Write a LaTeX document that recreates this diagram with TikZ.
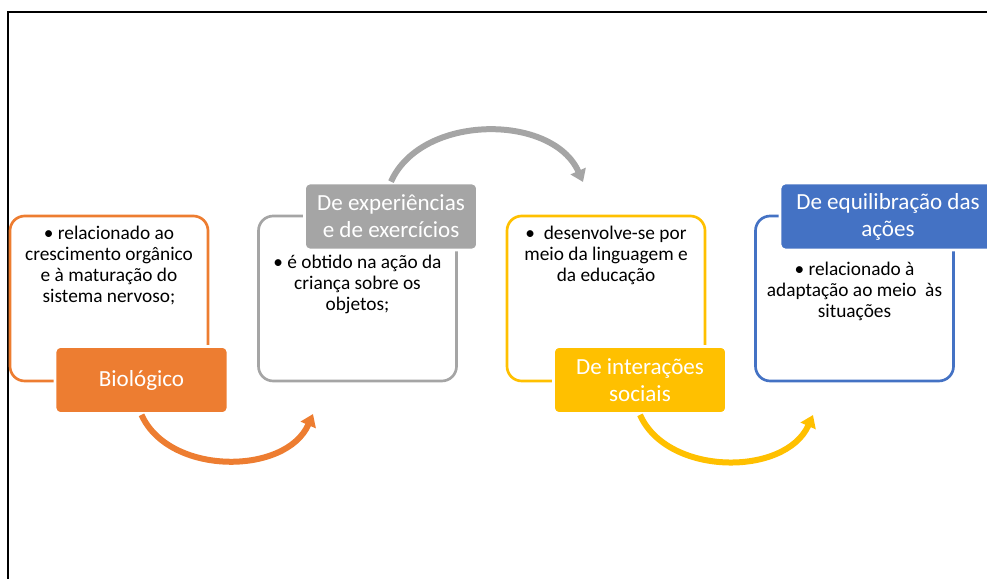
\documentclass[tikz,border=0pt]{standalone}
\usepackage{fontspec}
\setmainfont{Carlito}
\usetikzlibrary{positioning,arrows.meta}
\definecolor{orgline}{HTML}{ED7D31}
\definecolor{gryline}{HTML}{A5A5A5}
\definecolor{ylwline}{HTML}{FFC000}
\definecolor{bluline}{HTML}{4472C4}

\begin{document}
\begin{tikzpicture}[
    x=0.75pt, y=0.75pt,
    outline box/.style={draw, line width=2pt, rounded corners=11pt, minimum width=148.5pt, minimum height=123.75pt, inner sep=0pt},
    head box/.style={draw=white, line width=2pt, rounded corners=4pt, minimum width=129.75pt, minimum height=50.25pt, text=white, align=center, inner sep=0pt, font=\fontsize{17.3}{20.25}\selectfont},
    body text/.style={align=center, inner sep=0pt, font=\fontsize{14.5}{15.75}\selectfont},
    turn arrow/.style={line width=4.5pt, -{Triangle[length=9pt,width=12pt]}}
]
\clip (0,0) rectangle (987,578);
\draw[line width=1.5pt] (8,-5) |- (995,566);

\node[outline box, draw=orgline] (b1) at (109,279.5) {};
\node[outline box, draw=gryline] (b2) at (357.5,279.5) {};
\node[outline box, draw=ylwline] (b3) at (606,279.5) {};
\node[outline box, draw=bluline] (b4) at (854.5,279.5) {};

\node[body text, below=8pt of b1.north] (t1) {\textbullet\ relacionado ao\\crescimento orgânico\\e à maturação do\\sistema nervoso;};
\node[body text, below=30pt of b2.north] (t2) {\textbullet\ é obtido na ação da\\criança sobre os\\objetos;};
\node[body text, below=8pt of b3.north] (t3) {\textbullet\ \ desenvolve-se por\\meio da linguagem e\\da educação};
\node[body text, below=35pt of b4.north] (t4) {\textbullet\ relacionado à\\adaptação ao meio\ \ às\\situações};

\node[head box, fill=orgline] (bio) at (141.5,198) {Biológico};
\node[head box, fill=gryline] (exp) at (391,361.5) {De experiências\\e de exercícios};
\node[head box, fill=ylwline] (soc) at (640,198) {De interações\\sociais};
\node[head box, fill=bluline, minimum width=162pt] (eq) at (888,361.5) {De equilibração das\\ações};

\coordinate (e1) at (313,164);
\coordinate (e2) at (583,396);
\coordinate (e3) at (813,163);

\draw[turn arrow, draw=orgline] (bio.south) to[bend right=66] (e1);
\draw[turn arrow, draw=gryline] (exp.north) to[bend left=66] (e2);
\draw[turn arrow, draw=ylwline] (soc.south) to[bend right=66] (e3);
\end{tikzpicture}
\end{document}
